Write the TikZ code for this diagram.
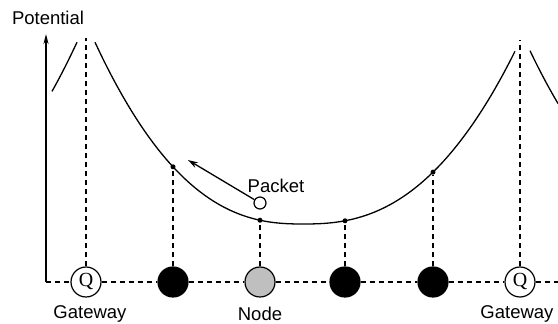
\documentclass[tikz,border=0pt]{standalone}
\usepackage{fontspec}
\setmainfont{Liberation Sans}
\newfontfamily\serifq{Liberation Serif}
\usepackage{tikz}
\usetikzlibrary{positioning,arrows.meta}

\tikzset{
  station/.style={circle, draw, line width=1.2pt, minimum size=30pt, inner sep=0pt},
  gateway/.style={station, fill=white, font=\serifq\fontsize{20}{20}\selectfont},
  relay/.style={station, fill=black},
  source/.style={station, fill=black!25},
  link/.style={line width=1.7pt, dash pattern=on 5pt off 4pt},
  tick/.style={circle, fill=black, inner sep=0pt, minimum size=5pt},
  lbl/.style={font=\fontsize{18.5}{21}\selectfont},
}

\begin{document}
\begin{tikzpicture}[x=1pt, y=1pt]
    \useasboundingbox (0,0) rectangle (558,324);

    % Potential curve (one valley between gateways, plus the edges of the next ones)
    \draw[line width=1.3pt] plot[domain=95:302, samples=70, smooth] (\x, {100+30*((303-\x)/100)^2.46})
        -- plot[domain=304:515, samples=70, smooth] (\x, {100+27.2*((\x-303)/100)^2.46});
    \draw[line width=1.3pt] plot[domain=52:77, samples=15, smooth] (\x, {100+30*((\x+131)/100)^2.46});
    \draw[line width=1.3pt] plot[domain=530:558, samples=15, smooth] (\x, {100+30*((734-\x)/100)^2.46});

    % Axis
    \coordinate (O) at (46,42);
    \coordinate (axisTop) at (46,290);
    \coordinate (lineEnd) at (558,42);
    \draw[line width=1.6pt, -{Stealth[length=10pt,width=5pt]}] (O) -- (axisTop);
    \node[lbl] (potLbl) at (48,306) {Potential};

    % Gateways and nodes
    \node[gateway] (gwL) at (86,42) {Q};
    \node[relay]   (nA)  at (173,42) {};
    \node[source]  (nB)  at (260,42) {};
    \node[relay]   (nC)  at (345,42) {};
    \node[relay]   (nD)  at (433,42) {};
    \node[gateway] (gwR) at (520,42) {Q};

    \node[lbl] (gwLLbl) at (90,10) {Gateway};
    \node[lbl] (nBLbl)  at (260,10) {Node};
    \node[lbl] (gwRLbl) at (517,10) {Gateway};

    % Points on the curve
    \node[tick] (pA) at (173, {100+30*((303-173)/100)^2.46}) {};
    \node[tick] (pB) at (260, {100+30*((303-260)/100)^2.46}) {};
    \node[tick] (pC) at (345, {100+27.2*((345-303)/100)^2.46}) {};
    \node[tick] (pD) at (433, {100+27.2*((433-303)/100)^2.46}) {};
    \coordinate (peakL) at (86,286);
    \coordinate (peakR) at (520,284);

    % Dashed links
    \draw[link] (O) -- (gwL) -- (nA) -- (nB) -- (nC) -- (nD) -- (gwR) -- (lineEnd);
    \draw[link] (gwL) -- (peakL);
    \draw[link] (gwR) -- (peakR);
    \draw[link] (nA) -- (pA);
    \draw[link] (nB) -- (pB);
    \draw[link] (nC) -- (pC);
    \draw[link] (nD) -- (pD);

    % Packet
    \node[circle, draw, fill=white, line width=1.2pt, minimum size=12pt, inner sep=0pt] (packet) at (260,121) {};
    \node[lbl] (packetLbl) at (276,138) {Packet};
    \coordinate (moveTo) at (188,164);
    \draw[line width=1.3pt, -{Stealth[length=10pt,width=6pt]}] (packet) -- (moveTo);
\end{tikzpicture}
\end{document}
